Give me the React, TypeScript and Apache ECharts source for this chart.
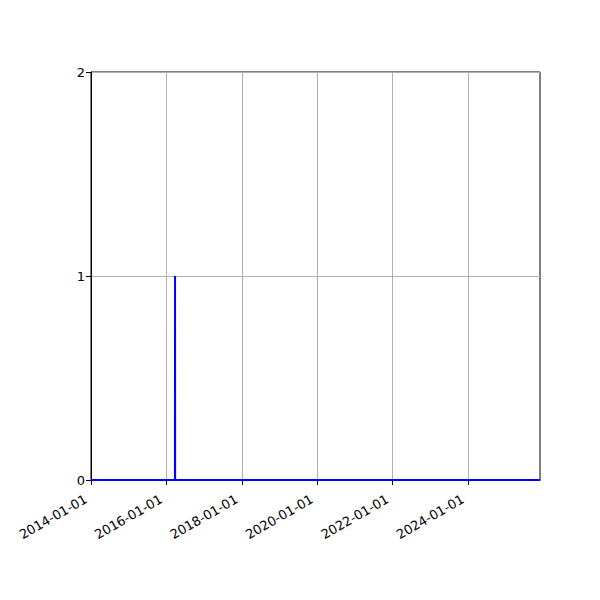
import React, { useEffect, useRef } from 'react'
import * as echarts from 'echarts'

// daily series: zero everywhere except one day
const dates = ['2014-01-01', '2016-03-24', '2016-03-25', '2016-03-26', '2025-11-28']
const values = [0, 0, 1, 0, 0]

const xTicks = ['2014-01-01', '2016-01-01', '2018-01-01', '2020-01-01', '2022-01-01', '2024-01-01']
const yTicks = [0, 1, 2]

const toTs = (d: string) => {
  const [y, m, day] = d.split('-').map(Number)
  return Date.UTC(y, m - 1, day)
}

const fmt = (v: number) => {
  const d = new Date(v)
  const p = (n: number) => String(n).padStart(2, '0')
  return `${d.getUTCFullYear()}-${p(d.getUTCMonth() + 1)}-${p(d.getUTCDate())}`
}

const App: React.FC = () => {
  const chartRef = useRef<HTMLDivElement>(null)

  useEffect(() => {
    document.body.style.margin = '0'
    if (!chartRef.current) return
    const chart = echarts.init(chartRef.current, undefined, { renderer: 'svg' })

    const tickTs = xTicks.map(toTs)
    const font = 'DejaVu Sans'

    chart.setOption({
      animation: false,
      backgroundColor: '#fff',
      textStyle: { fontFamily: font },
      grid: {
        left: 91,
        right: 60,
        top: 72,
        bottom: 120,
        show: true,
        borderColor: '#000',
        borderWidth: 1,
        backgroundColor: 'transparent'
      },
      xAxis: {
        type: 'value',
        min: toTs(dates[0]),
        max: toTs(dates[dates.length - 1]),
        axisLine: { show: true, lineStyle: { color: '#000', width: 1 } },
        axisTick: {
          show: true,
          length: 5,
          lineStyle: { color: '#000' },
          customValues: tickTs
        },
        axisLabel: {
          customValues: tickTs,
          rotate: 30,
          margin: 15,
          padding: [0, 6, 0, 0],
          color: '#000',
          fontSize: 13,
          fontFamily: font,
          formatter: (v: number) => fmt(v)
        },
        splitLine: { show: true, lineStyle: { color: '#b0b0b0', width: 1 } }
      },
      yAxis: {
        type: 'value',
        min: yTicks[0],
        max: yTicks[yTicks.length - 1],
        interval: 1,
        axisLine: { show: true, lineStyle: { color: '#000', width: 1 } },
        axisTick: { show: true, length: 5, lineStyle: { color: '#000' } },
        axisLabel: { color: '#000', fontSize: 13, fontFamily: font, margin: 6 },
        splitLine: { show: true, lineStyle: { color: '#b0b0b0', width: 1 } }
      },
      series: [
        {
          type: 'line',
          data: dates.map((d, i) => [toTs(d), values[i]]),
          showSymbol: false,
          lineStyle: { color: '#0000ff', width: 2 },
          itemStyle: { color: '#0000ff' }
        }
      ]
    })

    return () => {
      chart.dispose()
    }
  }, [])

  return <div ref={chartRef} style={{ width: 600, height: 600 }} />
}

export default App
